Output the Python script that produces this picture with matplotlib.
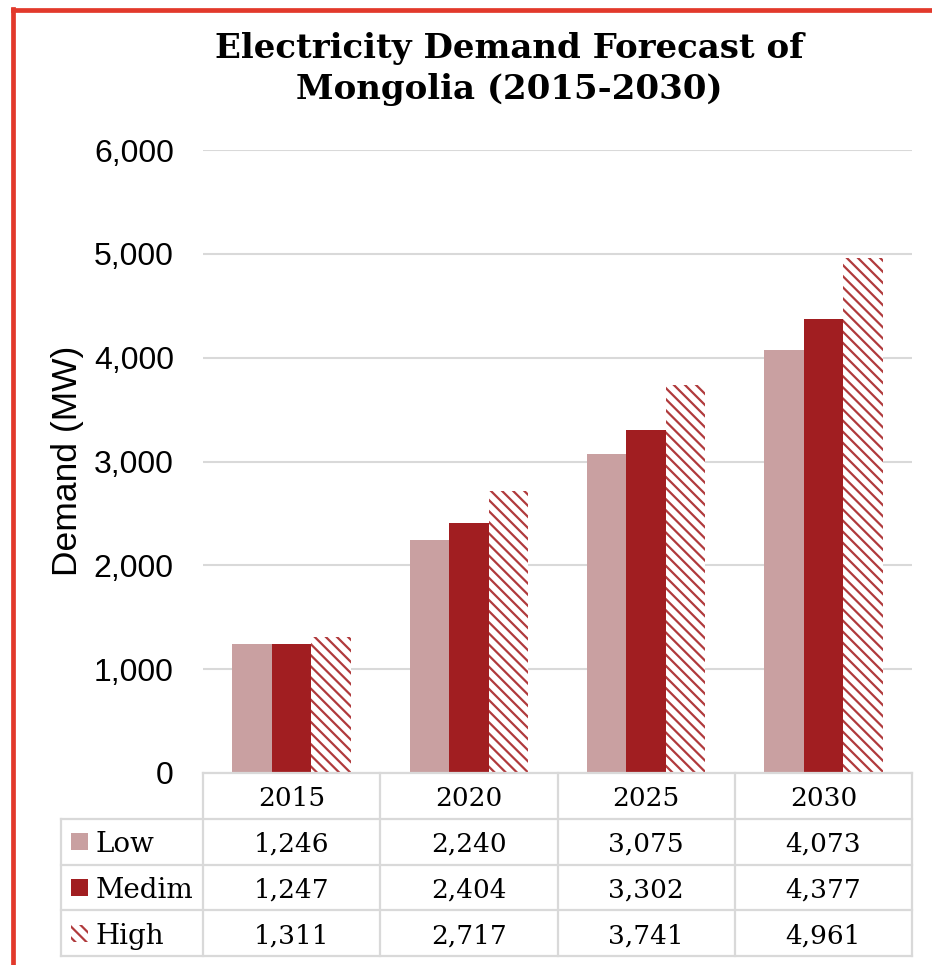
import matplotlib
matplotlib.use("Agg")
import matplotlib.pyplot as plt
from matplotlib.lines import Line2D
from matplotlib.patches import Rectangle
from matplotlib.ticker import FuncFormatter
import numpy as np

# ---- data ----
years = ["2015", "2020", "2025", "2030"]
series_names = ["Low", "Medim", "High"]
low = [1246, 2240, 3075, 4073]
medium = [1247, 2404, 3302, 4377]
high = [1311, 2717, 3741, 4961]
y_ticks = [0, 1000, 2000, 3000, 4000, 5000, 6000]

# ---- style ----
C_LOW = "#C9A0A1"
C_MED = "#A11E21"
C_HATCH = "#B03A3C"
C_GRID = "#D9D9D9"
C_FRAME = "#E2392B"
SERIF = "DejaVu Serif"
SANS = "Liberation Sans"
HATCH = "\\\\\\"

plt.rcParams["hatch.linewidth"] = 1.6

W, H = 932, 965
fig = plt.figure(figsize=(W / 100, H / 100), dpi=100)


def px_box(x0, y0, x1, y1):
    """Figure-fraction rect from pixel edges (y measured from top)."""
    return [x0 / W, 1 - y1 / H, (x1 - x0) / W, (y1 - y0) / H]


# ---- main chart ----
ax = fig.add_axes(px_box(203, 150, 912, 773))
x = np.arange(len(years))
bw = 0.223
ax.bar(x - bw, low, bw, color=C_LOW, linewidth=0, zorder=3)
ax.bar(x, medium, bw, color=C_MED, linewidth=0, zorder=3)
ax.bar(x + bw, high, bw, facecolor="white", edgecolor=C_HATCH,
       hatch=HATCH, linewidth=0, zorder=3)

ax.set_xlim(-0.5, len(years) - 0.5)
ax.set_ylim(0, 6000)
ax.set_yticks(y_ticks)
ax.yaxis.set_major_formatter(FuncFormatter(lambda v, _: f"{int(v):,}"))
ax.set_xticks([])
ax.tick_params(axis="y", length=0, pad=21, labelsize=23)
for lab in ax.get_yticklabels():
    lab.set_fontfamily(SANS)
ax.grid(axis="y", color=C_GRID, linewidth=1.5, zorder=0)
for s in ax.spines.values():
    s.set_visible(False)

fig.text(67 / W, 1 - 461 / H, "Demand (MW)", rotation=90, ha="center",
         va="center", fontsize=25.5, family=SANS)

fig.text(509 / W, 1 - 69 / H,
         "Electricity Demand Forecast of\nMongolia (2015-2030)",
         ha="center", va="center", fontsize=24.5, fontweight="bold",
         family=SERIF, linespacing=1.28)

# ---- data table under the chart ----
px_per_unit = (912 - 203) / len(years)
tx0 = -0.5 - (203 - 61) / px_per_unit
tax = fig.add_axes(px_box(61, 773, 912, 956))
tax.set_xlim(tx0, len(years) - 0.5)
tax.set_ylim(4, 0)
tax.axis("off")

line_kw = dict(color=C_GRID, linewidth=1.6, clip_on=False)
tax.add_line(Line2D([-0.5, len(years) - 0.5], [0, 0], **line_kw))
for r in range(1, 5):
    tax.add_line(Line2D([tx0, len(years) - 0.5], [r, r], **line_kw))
tax.add_line(Line2D([tx0, tx0], [1, 4], **line_kw))
for c in range(len(years) + 1):
    tax.add_line(Line2D([c - 0.5, c - 0.5], [0, 4], **line_kw))

for i, yr in enumerate(years):
    tax.text(i, 0.5, yr, ha="center", va="center_baseline",
             fontsize=19, family=SERIF)

rows = [low, medium, high]
row_h_px = (956 - 773) / 4
sw = 17 / px_per_unit
sh = 17 / row_h_px
for r, (name, vals) in enumerate(zip(series_names, rows), start=1):
    yc = r + 0.5
    if r == 3:
        patch = Rectangle((tx0 + 10 / px_per_unit, yc - sh / 2), sw, sh,
                          facecolor="white", edgecolor=C_HATCH, hatch=HATCH,
                          linewidth=0, clip_on=False)
    else:
        patch = Rectangle((tx0 + 10 / px_per_unit, yc - sh / 2), sw, sh,
                          facecolor=C_LOW if r == 1 else C_MED,
                          linewidth=0, clip_on=False)
    tax.add_patch(patch)
    tax.text(tx0 + 35 / px_per_unit, yc, name, ha="left",
             va="center_baseline", fontsize=20, family=SERIF)
    for i, v in enumerate(vals):
        tax.text(i, yc, f"{v:,}", ha="center", va="center_baseline",
                 fontsize=19, family=SERIF)

# ---- frame accents (top and left) ----
fig.add_artist(Line2D([13 / W, 13 / W], [0, 1 - 9 / H], color=C_FRAME,
                      linewidth=3.4, solid_capstyle="projecting"))
fig.add_artist(Line2D([13 / W, 1], [1 - 9.5 / H, 1 - 9.5 / H], color=C_FRAME,
                      linewidth=3.4, solid_capstyle="projecting"))

fig.savefig("out.png", dpi=100)
